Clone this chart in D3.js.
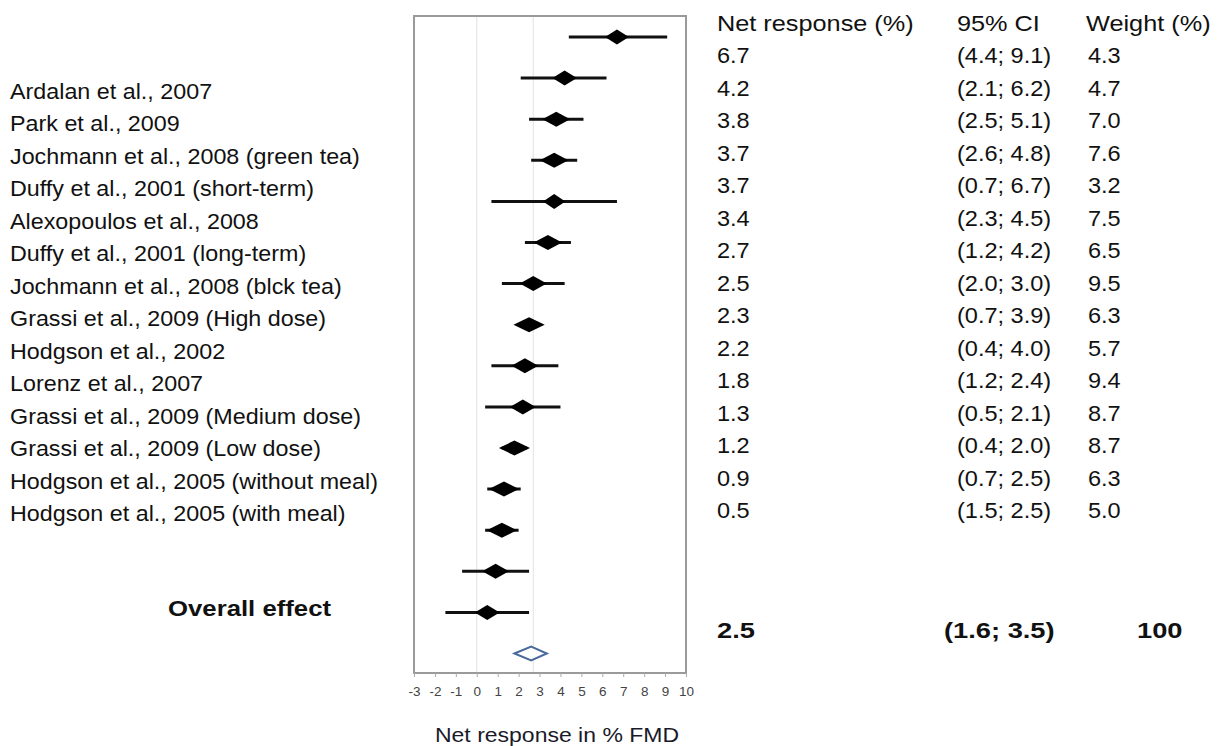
<!DOCTYPE html>
<html>
<head>
<meta charset="utf-8">
<script src="https://cdn.jsdelivr.net/npm/d3@7"></script>
<style>
  body { margin: 0; background: #fff; }
  text { font-family: "Liberation Sans", Arial, sans-serif; }
</style>
</head>
<body>
<svg id="chart" width="1218" height="746"></svg>
<script>
// study labels as printed on the left (first study name is missing in the source figure)
const studies = [
  'Ardalan et al., 2007',
  'Park et al., 2009',
  'Jochmann et al., 2008 (green tea)',
  'Duffy et al., 2001 (short-term)',
  'Alexopoulos et al., 2008',
  'Duffy et al., 2001 (long-term)',
  'Jochmann et al., 2008 (blck tea)',
  'Grassi et al., 2009 (High dose)',
  'Hodgson et al., 2002',
  'Lorenz et al., 2007',
  'Grassi et al., 2009 (Medium dose)',
  'Grassi et al., 2009 (Low dose)',
  'Hodgson et al., 2005 (without meal)',
  'Hodgson et al., 2005 (with meal)'
];

// table columns
const netText = ['6.7','4.2','3.8','3.7','3.7','3.4','2.7','2.5','2.3','2.2','1.8','1.3','1.2','0.9','0.5'];
const ciText = ['(4.4; 9.1)','(2.1; 6.2)','(2.5; 5.1)','(2.6; 4.8)','(0.7; 6.7)','(2.3; 4.5)','(1.2; 4.2)',
  '(2.0; 3.0)','(0.7; 3.9)','(0.4; 4.0)','(1.2; 2.4)','(0.5; 2.1)','(0.4; 2.0)','(0.7; 2.5)','(1.5; 2.5)'];
const weights = [4.3, 4.7, 7.0, 7.6, 3.2, 7.5, 6.5, 9.5, 6.3, 5.7, 9.4, 8.7, 8.7, 6.3, 5.0];

// plotted estimates and confidence limits
const est  = [6.7, 4.2, 3.8, 3.7, 3.7, 3.4, 2.7, 2.5, 2.3, 2.2, 1.8, 1.3, 1.2, 0.9, 0.5];
const ciLo = [4.4, 2.1, 2.5, 2.6, 0.7, 2.3, 1.2, 2.0, 0.7, 0.4, 1.2, 0.5, 0.4, -0.7, -1.5];
const ciHi = [9.1, 6.2, 5.1, 4.8, 6.7, 4.5, 4.2, 3.0, 3.9, 4.0, 2.4, 2.1, 2.0, 2.5, 2.5];

const pooled = { est: 2.6, lo: 1.8, hi: 3.35 };
const pooledText = ['2.5', '(1.6; 3.5)', '100'];
const refLines = [0, 2.7];
const xTicks = d3.range(-3, 11);

const svg = d3.select('#chart');

const box = { left: 414, right: 686, top: 16, bottom: 673 };
const x = d3.scaleLinear().domain([-3, 10]).range([box.left, box.right]);
const y = d3.scaleLinear().domain([0, 15]).range([37, 653.5]);
const w = d3.scaleLinear().domain([3, 10]).range([22, 32]);
const rowY = d3.scaleLinear().domain([0, 1]).range([55, 87.5]);

// the source text is a bit wider than Arial, so stretch horizontally
function stretched(sel, px, py, sx) {
  return sel.attr('transform', (d, i) => `translate(${px(d, i)},${py(d, i)}) scale(${sx},1)`);
}

// frame
svg.append('rect')
  .attr('x', box.left).attr('y', box.top)
  .attr('width', box.right - box.left).attr('height', box.bottom - box.top)
  .attr('fill', 'none').attr('stroke', '#9a9a9a').attr('stroke-width', 2);

svg.selectAll('.ref').data(refLines).join('line')
  .attr('x1', d => x(d)).attr('x2', d => x(d))
  .attr('y1', box.top + 1).attr('y2', box.bottom - 1)
  .attr('stroke', '#e2e2e2').attr('stroke-width', 1);

// axis
const axis = svg.append('g')
  .attr('transform', `translate(0,${box.bottom})`)
  .call(d3.axisBottom(x).tickValues(xTicks).tickSize(4).tickPadding(9).tickFormat(d => String(d)));
axis.select('.domain').remove();
axis.selectAll('line').attr('stroke', '#aaa');
axis.selectAll('text').attr('font-size', 13.5).attr('fill', '#444')
  .style('font-family', '"Liberation Sans", Arial, sans-serif');

stretched(svg.append('text').datum(0), () => 557, () => 742, 1.15)
  .attr('text-anchor', 'middle').attr('font-size', 20).attr('fill', '#1a1a2a')
  .text('Net response in % FMD');

// studies
const rows = svg.append('g');
est.forEach((e, i) => {
  const cy = y(i);
  rows.append('line')
    .attr('x1', x(ciLo[i])).attr('x2', x(ciHi[i]))
    .attr('y1', cy).attr('y2', cy)
    .attr('stroke', '#111').attr('stroke-width', 3);
  const hw = w(weights[i]) / 2, hh = 7.5;
  rows.append('path')
    .attr('d', `M${x(e) - hw},${cy} L${x(e)},${cy - hh} L${x(e) + hw},${cy} L${x(e)},${cy + hh} Z`)
    .attr('fill', '#000');
});

// pooled diamond
const py = y(15);
svg.append('path')
  .attr('d', `M${x(pooled.lo)},${py} L${x(pooled.est)},${py - 7} L${x(pooled.hi)},${py} L${x(pooled.est)},${py + 7} Z`)
  .attr('fill', '#fff').attr('stroke', '#4a6a9c').attr('stroke-width', 2);

// left labels
stretched(svg.selectAll('.lab').data(studies).join('text'), () => 10, (d, i) => rowY(i + 1) + 11, 1.06)
  .attr('font-size', 22).attr('fill', '#111')
  .text(d => d);

stretched(svg.append('text').datum(0), () => 168, () => 616, 1.17)
  .attr('font-size', 22).attr('font-weight', 'bold').attr('fill', '#111')
  .text('Overall effect');

// table header
const cols = [717, 957, 1088];
const header = ['Net response (%)', '95% CI', 'Weight (%)'];
stretched(svg.selectAll('.hdr').data(header).join('text'), (d, i) => cols[i] - (i === 2 ? 2 : 0), () => 31, 1.15)
  .attr('font-size', 22).attr('fill', '#111')
  .text(d => d);

const cells = [netText, ciText, weights.map(d => d.toFixed(1))];
cells.forEach((col, c) => {
  stretched(svg.selectAll('.c' + c).data(col).join('text'), () => cols[c], (d, i) => rowY(i) + 8, 1.07)
    .attr('font-size', 22).attr('fill', '#111')
    .text(d => d);
});

// pooled row
const pooledX = [717, 944, 1137];
stretched(svg.selectAll('.pool').data(pooledText).join('text'), (d, i) => pooledX[i], () => 638, 1.24)
  .attr('font-size', 22).attr('font-weight', 'bold').attr('fill', '#111')
  .text(d => d);
</script>
</body>
</html>
